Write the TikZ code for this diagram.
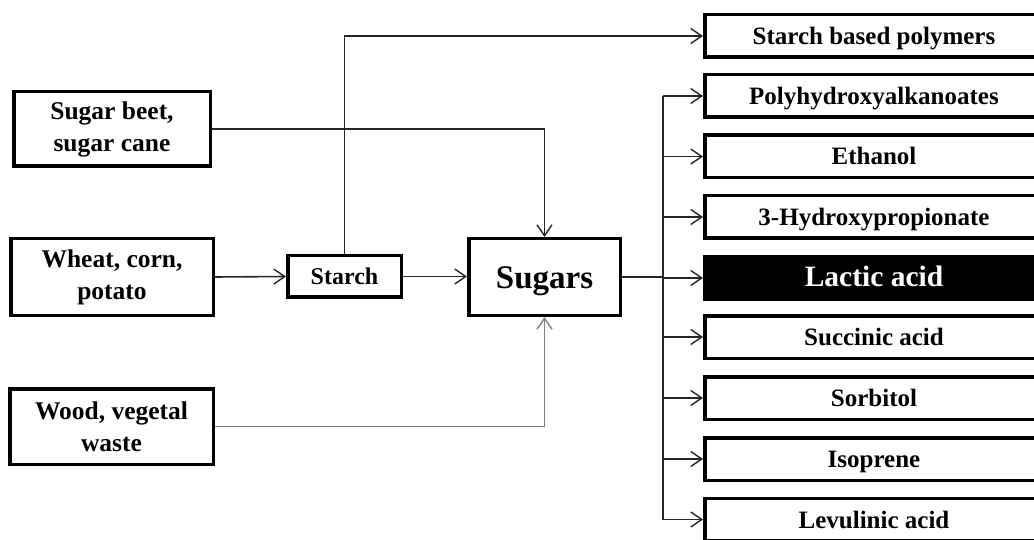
\documentclass[tikz,border=0pt]{standalone}
\usepackage{fontspec}
\setmainfont{Liberation Serif}
\usetikzlibrary{arrows.meta}
\tikzset{
  box/.style={draw=black, line width=3.5pt, rectangle, inner sep=0pt, align=center,
    font=\bfseries\fontsize{25.5}{32}\selectfont},
  prod/.style={box, minimum width=338.5pt, minimum height=42.5pt,
    text height=17pt, text depth=0pt,
    font=\bfseries\fontsize{25}{28}\selectfont},
  conn/.style={line width=1.6pt, draw=black!85},
  arr/.style={conn, -{Straight Barb[length=11pt,width=15pt,line width=1.4pt]}},
  grayarr/.style={arr, draw=black!50},
}
\begin{document}
\begin{tikzpicture}[x=1pt,y=-1pt]
\useasboundingbox (0,0) rectangle (1034,540);
\clip (0,0) rectangle (1034,540);
% left sources
\node[box, minimum width=196.5pt, minimum height=74.5pt] (beet) at (112,129) {Sugar beet,\\sugar cane};
\node[box, minimum width=202.5pt, minimum height=76.5pt] (wheat) at (112,277) {Wheat, corn,\\potato};
\node[box, minimum width=203.5pt, minimum height=75.5pt] (wood) at (111.5,426.5) {Wood, vegetal\\waste};
\node[box, minimum width=113.5pt, minimum height=41.5pt, text height=17pt, text depth=0pt,
  font=\bfseries\fontsize{24}{28}\selectfont] (starch) at (344.5,276.5) {Starch};
\node[box, minimum width=151.5pt, minimum height=76.5pt, text height=22pt, text depth=0pt,
  font=\bfseries\fontsize{33}{38}\selectfont] (sugars) at (544.5,277) {Sugars};
% products
\node[prod] (sbp) at (874,36) {Starch based polymers};
\node[prod] (poly) at (874,96) {Polyhydroxyalkanoates};
\node[prod] (eth) at (874,156.5) {Ethanol};
\node[prod] (hp) at (874,217) {3-Hydroxypropionate};
\node[prod, fill=black, text=white, font=\bfseries\fontsize{29.5}{32}\selectfont] (lac) at (874,278) {Lactic acid};
\node[prod] (suc) at (874,337) {Succinic acid};
\node[prod] (sor) at (874,398) {Sorbitol};
\node[prod] (iso) at (874,459) {Isoprene};
\node[prod] (lev) at (874,519.5) {Levulinic acid};
% connectors
\draw[arr] (beet.east) -| (sugars.north);
\draw[arr] (wheat.east) -- (starch.west);
\draw[arr] (starch.east) -- (sugars.west |- starch.east);
\draw[grayarr] (wood.east) -| (sugars.south);
\draw[arr] (starch.north) |- (sbp.west);
\coordinate (bus) at (663,0);
\draw[conn] (sugars.east) -- (sugars.east -| bus);
\draw[conn] (bus |- poly.west) -- (bus |- lev.west);
\foreach \n in {poly,eth,hp,lac,suc,sor,iso,lev}
  \draw[arr] (bus |- \n.west) -- (\n.west);
\end{tikzpicture}
\end{document}
